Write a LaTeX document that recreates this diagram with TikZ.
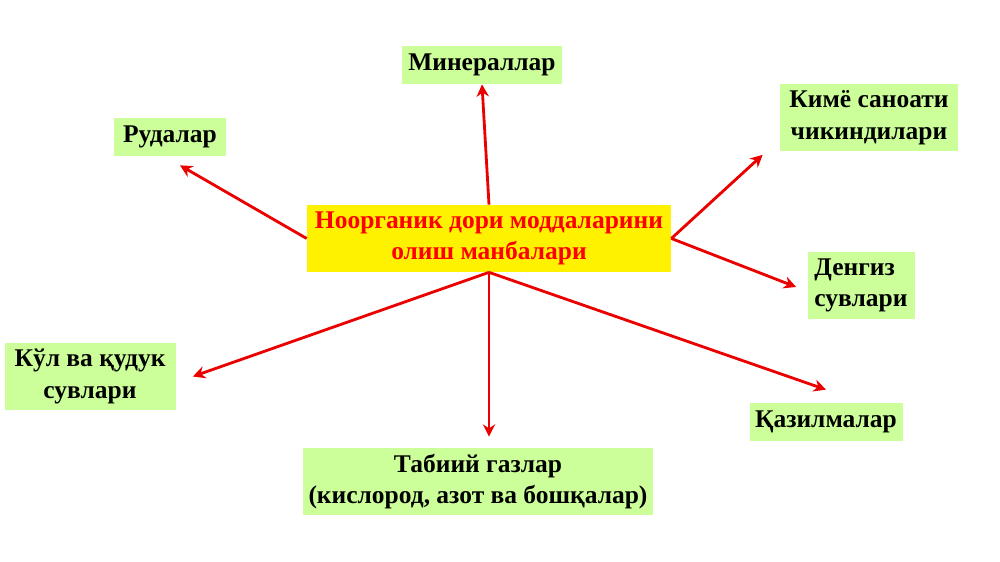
\documentclass[tikz,border=0pt]{standalone}
\usepackage{fontspec}
\setmainfont{Liberation Serif}
\usetikzlibrary{positioning,arrows.meta}
\definecolor{boxgreen}{RGB}{204,255,153}
\definecolor{arrred}{RGB}{235,0,0}
\tikzset{
src box/.style={fill=yellow, text=red, font=\fontsize{14.5}{18}\selectfont\bfseries, align=center, minimum width=7.28cm, minimum height=1.34cm, inner sep=0pt},
leaf/.style={fill=boxgreen, font=\fontsize{14.5}{18}\selectfont\bfseries, align=center, minimum height=0.76cm, inner sep=0pt},
feed/.style={draw=arrred, line width=1.6pt, -{Stealth[length=7pt,width=7pt]}}
}

\begin{document}
\begin{tikzpicture}[on grid]
\useasboundingbox (0,0) rectangle (20,11.24);
\node[src box] (src) at (9.78,6.47) {Ноорганик дори моддаларини\\олиш манбалари};
\node[leaf, minimum width=3.2cm, above left=3.47cm and 0.14cm of src] (min) {Минераллар};
\node[leaf, minimum width=2.24cm, above left=2.03cm and 6.38cm of src] (rud) {Рудалар};
\node[leaf, minimum width=3.56cm, minimum height=1.34cm, above right=2.41cm and 7.6cm of src] (kim) {Кимё саноати\\чикиндилари};
\node[leaf, minimum width=2.14cm, minimum height=1.34cm, align=left, below right=0.94cm and 7.44cm of src] (den) {Денгиз\\сувлари};
\node[leaf, minimum width=3.42cm, minimum height=1.34cm, below left=2.76cm and 7.98cm of src] (kul) {Кўл ва қудук\\сувлари};
\node[leaf, minimum width=7.0cm, minimum height=1.34cm, below left=4.86cm and 0.22cm of src] (tab) {Табиий газлар\\(кислород, азот ва бошқалар)};
\node[leaf, minimum width=3.06cm, below right=3.67cm and 6.74cm of src] (qaz) {Қазилмалар};

\draw[feed] (src.north) -- (min.south);
\draw[feed] (src.west) -- ([xshift=0.2cm,yshift=-0.18cm]rud.south);
\draw[feed] (src.east) -- ([xshift=-0.34cm,yshift=-0.06cm]kim.south west);
\draw[feed] (src.east) -- ([xshift=-0.22cm,yshift=-0.03cm]den.west);
\draw[feed] (src.south) -- ([xshift=0.34cm]kul.east);
\draw[feed, shorten >=0.22cm] (src.south) -- (src.south |- tab.north);
\draw[feed] (src.south) -- ([yshift=0.26cm]qaz.north);
\end{tikzpicture}
\end{document}
